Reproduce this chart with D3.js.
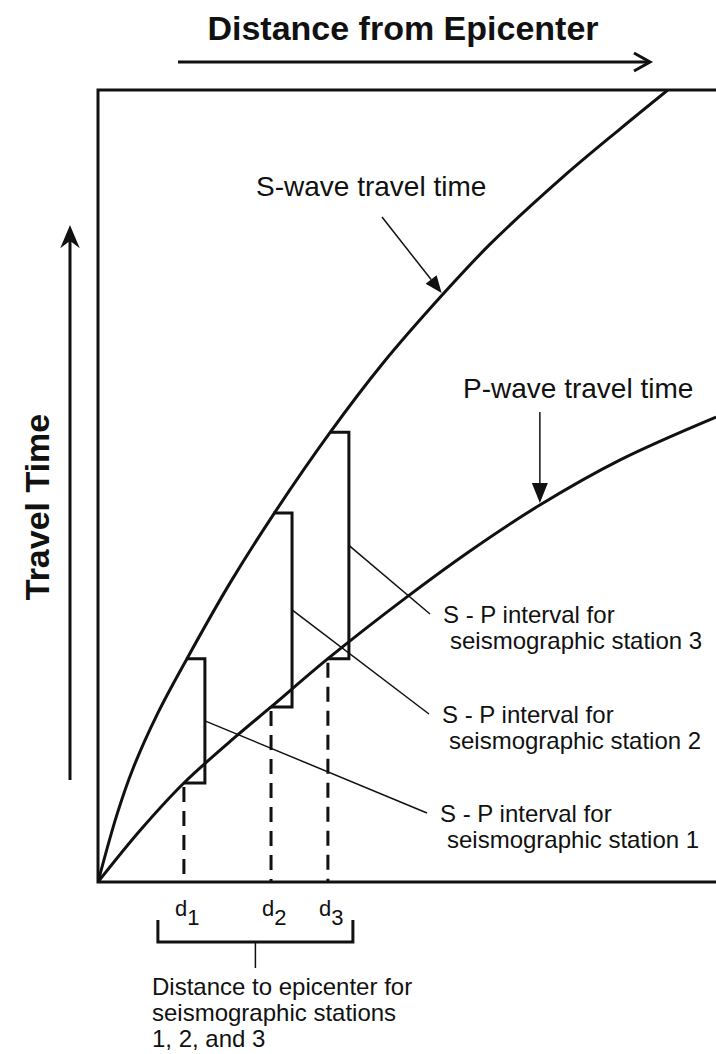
<!DOCTYPE html>
<html>
	<head>
		<title>Travel Time Curves</title>
		<style>
			body, html {
				margin: 0;
				padding: 0;
				background: #fff;
			}
			text {
				font-family: "Liberation Sans", Arial, sans-serif;
				fill: #111;
			}
		</style>
	</head>
	<body>

		<svg id="svg" width="716" height="1054"></svg>

		<script src="https://d3js.org/d3.v7.min.js"></script>
		<script>
		// S-wave travel time curve (distance, time)
		const sDistance = [0, 3.1, 5.7, 9.6, 14.4, 21.4, 28.3, 37.5, 46.0, 55.8, 63.4, 75.2, 84.5, 92.2]
		const sTime = [0, 8.6, 14.4, 21.2, 28.2, 37.8, 46.3, 56.7, 65.4, 74.2, 80.5, 89.0, 95.1, 100]

		// P-wave travel time curve (distance, time)
		const pDistance = [0, 6.8, 13.9, 22.5, 28.0, 37.2, 50.0, 60.2, 71.5, 84.5, 100]
		const pTime = [0, 6.5, 12.5, 18.5, 22.1, 28.2, 36.0, 41.8, 47.6, 53.3, 58.7]

		// seismographic stations
		const stations = ['1', '2', '3']
		const stationDistance = [13.9, 28.0, 37.2]
		const stationS = [28.2, 46.6, 56.8]
		const stationP = [12.5, 22.1, 28.2]

		// text
		const xTitle = 'Distance from Epicenter'
		const yTitle = 'Travel Time'
		const sLabel = 'S-wave travel time'
		const pLabel = 'P-wave travel time'
		const intervalLines = ['S - P interval for', 'seismographic station ']
		const captionLines = ['Distance to epicenter for', 'seismographic stations', '1, 2, and 3']

		const svg = d3.select('#svg')

		// plot box
		const boxLeft = 98, boxTop = 90, boxRight = 716, boxBottom = 882
		const xscale = d3.scaleLinear().domain([0, 100]).range([boxLeft, boxRight])
		const yscale = d3.scaleLinear().domain([0, 100]).range([boxBottom, boxTop])

		const ink = '#111'

		// clip for curves
		svg.append('clipPath').attr('id', 'box')
			.append('rect')
			.attr('x', boxLeft).attr('y', boxTop)
			.attr('width', boxRight - boxLeft).attr('height', boxBottom - boxTop)

		// frame: left, top and bottom edges (the right edge is off the picture)
		svg.append('path')
			.attr('d', `M${boxRight},${boxTop}H${boxLeft}V${boxBottom}H${boxRight}`)
			.attr('fill', 'none')
			.attr('stroke', ink)
			.attr('stroke-width', 3)

		// curves
		const linegen = d3.line()
			.x(d => xscale(d[0]))
			.y(d => yscale(d[1]))
			.curve(d3.curveCatmullRom.alpha(0.5))

		const sData = sDistance.map((d, i) => [d, sTime[i]])
		const pData = pDistance.map((d, i) => [d, pTime[i]])

		const curves = svg.append('g').attr('clip-path', 'url(#box)')
		curves.append('path')
			.attr('d', linegen(sData))
			.attr('fill', 'none')
			.attr('stroke', ink)
			.attr('stroke-width', 3)
		curves.append('path')
			.attr('d', linegen(pData))
			.attr('fill', 'none')
			.attr('stroke', ink)
			.attr('stroke-width', 3)

		// S - P brackets and dashed distance lines
		const bracketW = 21
		stations.forEach((s, i) => {
			const x0 = xscale(stationDistance[i])
			const yS = yscale(stationS[i])
			const yP = yscale(stationP[i])
			const x1 = x0 + bracketW

			svg.append('path')
				.attr('d', `M${x0 + 2},${yS}H${x1}V${yP}H${x0}`)
				.attr('fill', 'none')
				.attr('stroke', ink)
				.attr('stroke-width', 3)

			svg.append('line')
				.attr('x1', x0).attr('x2', x0)
				.attr('y1', yP + 4).attr('y2', boxBottom)
				.attr('stroke', ink)
				.attr('stroke-width', 3)
				.attr('stroke-dasharray', '15,9')
		})

		// leader lines from each bracket to its label
		const labelX = [440, 442, 443]
		const labelY = [822, 723, 623]
		stations.forEach((s, i) => {
			const bx = xscale(stationDistance[i]) + bracketW
			const by = (yscale(stationS[i]) + yscale(stationP[i])) / 2
			svg.append('line')
				.attr('x1', bx).attr('y1', by)
				.attr('x2', labelX[i] - 13).attr('y2', labelY[i] - 9)
				.attr('stroke', ink)
				.attr('stroke-width', 1.5)

			const t = svg.append('text')
				.attr('font-size', 24)
			t.append('tspan').attr('x', labelX[i]).attr('y', labelY[i]).text(intervalLines[0])
			t.append('tspan').attr('x', labelX[i] + 7).attr('y', labelY[i] + 26).text(intervalLines[1] + s)
		})

		// wave labels with pointer arrows
		function pointer(x1, y1, x2, y2, len, half) {
			const a = Math.atan2(y2 - y1, x2 - x1)
			const bx = x2 - len * Math.cos(a), by = y2 - len * Math.sin(a)
			svg.append('line')
				.attr('x1', x1).attr('y1', y1).attr('x2', bx).attr('y2', by)
				.attr('stroke', ink).attr('stroke-width', 1.5)
			const px = -Math.sin(a) * half, py = Math.cos(a) * half
			svg.append('path')
				.attr('d', `M${x2},${y2}L${bx + px},${by + py}L${bx - px},${by - py}Z`)
				.attr('fill', ink)
		}

		svg.append('text')
			.attr('x', 256).attr('y', 196)
			.attr('font-size', 28)
			.text(sLabel)
		pointer(382, 217, xscale(55.6), yscale(74.0) - 3, 17, 7)

		svg.append('text')
			.attr('x', 463).attr('y', 398)
			.attr('font-size', 28)
			.text(pLabel)
		pointer(xscale(71.5), 412, xscale(71.5), yscale(47.6) - 2, 20, 8)

		// axis titles with arrows
		svg.append('text')
			.attr('x', 403).attr('y', 40)
			.attr('text-anchor', 'middle')
			.attr('font-size', 34)
			.attr('font-weight', 'bold')
			.text(xTitle)

		svg.append('line')
			.attr('x1', 178).attr('x2', 650)
			.attr('y1', 62).attr('y2', 62)
			.attr('stroke', ink).attr('stroke-width', 3)
		svg.append('path')
			.attr('d', 'M634,53L650,62L634,71')
			.attr('fill', 'none')
			.attr('stroke', ink).attr('stroke-width', 3)

		svg.append('text')
			.attr('transform', 'translate(49,507) rotate(-90)')
			.attr('text-anchor', 'middle')
			.attr('font-size', 34)
			.attr('font-weight', 'bold')
			.text(yTitle)

		svg.append('line')
			.attr('x1', 70).attr('x2', 70)
			.attr('y1', 780).attr('y2', 236)
			.attr('stroke', ink).attr('stroke-width', 3)
		svg.append('path')
			.attr('d', 'M70,227L78,246L70,240L62,246Z')
			.attr('fill', ink)
			.attr('stroke', ink).attr('stroke-width', 1.5)

		// distance labels d1, d2, d3
		stations.forEach((s, i) => {
			const x0 = xscale(stationDistance[i])
			const t = svg.append('text')
				.attr('x', x0 - 9).attr('y', 916)
				.attr('font-size', 22)
			t.append('tspan').text('d')
			t.append('tspan').attr('dy', 9).text(s)
		})

		// brace under the distance labels
		const braceL = xscale(stationDistance[0]) - 26
		const braceR = xscale(stationDistance[2]) + 25
		svg.append('path')
			.attr('d', `M${braceL},920V942H${braceR}V920`)
			.attr('fill', 'none')
			.attr('stroke', ink).attr('stroke-width', 3)
		svg.append('line')
			.attr('x1', (braceL + braceR) / 2).attr('x2', (braceL + braceR) / 2)
			.attr('y1', 942).attr('y2', 968)
			.attr('stroke', ink).attr('stroke-width', 1.5)

		// caption
		const cap = svg.append('text').attr('font-size', 24)
		captionLines.forEach((line, i) => {
			cap.append('tspan')
				.attr('x', 152).attr('y', 995 + i * 26)
				.text(line)
		})
		</script>
	</body>
</html>
